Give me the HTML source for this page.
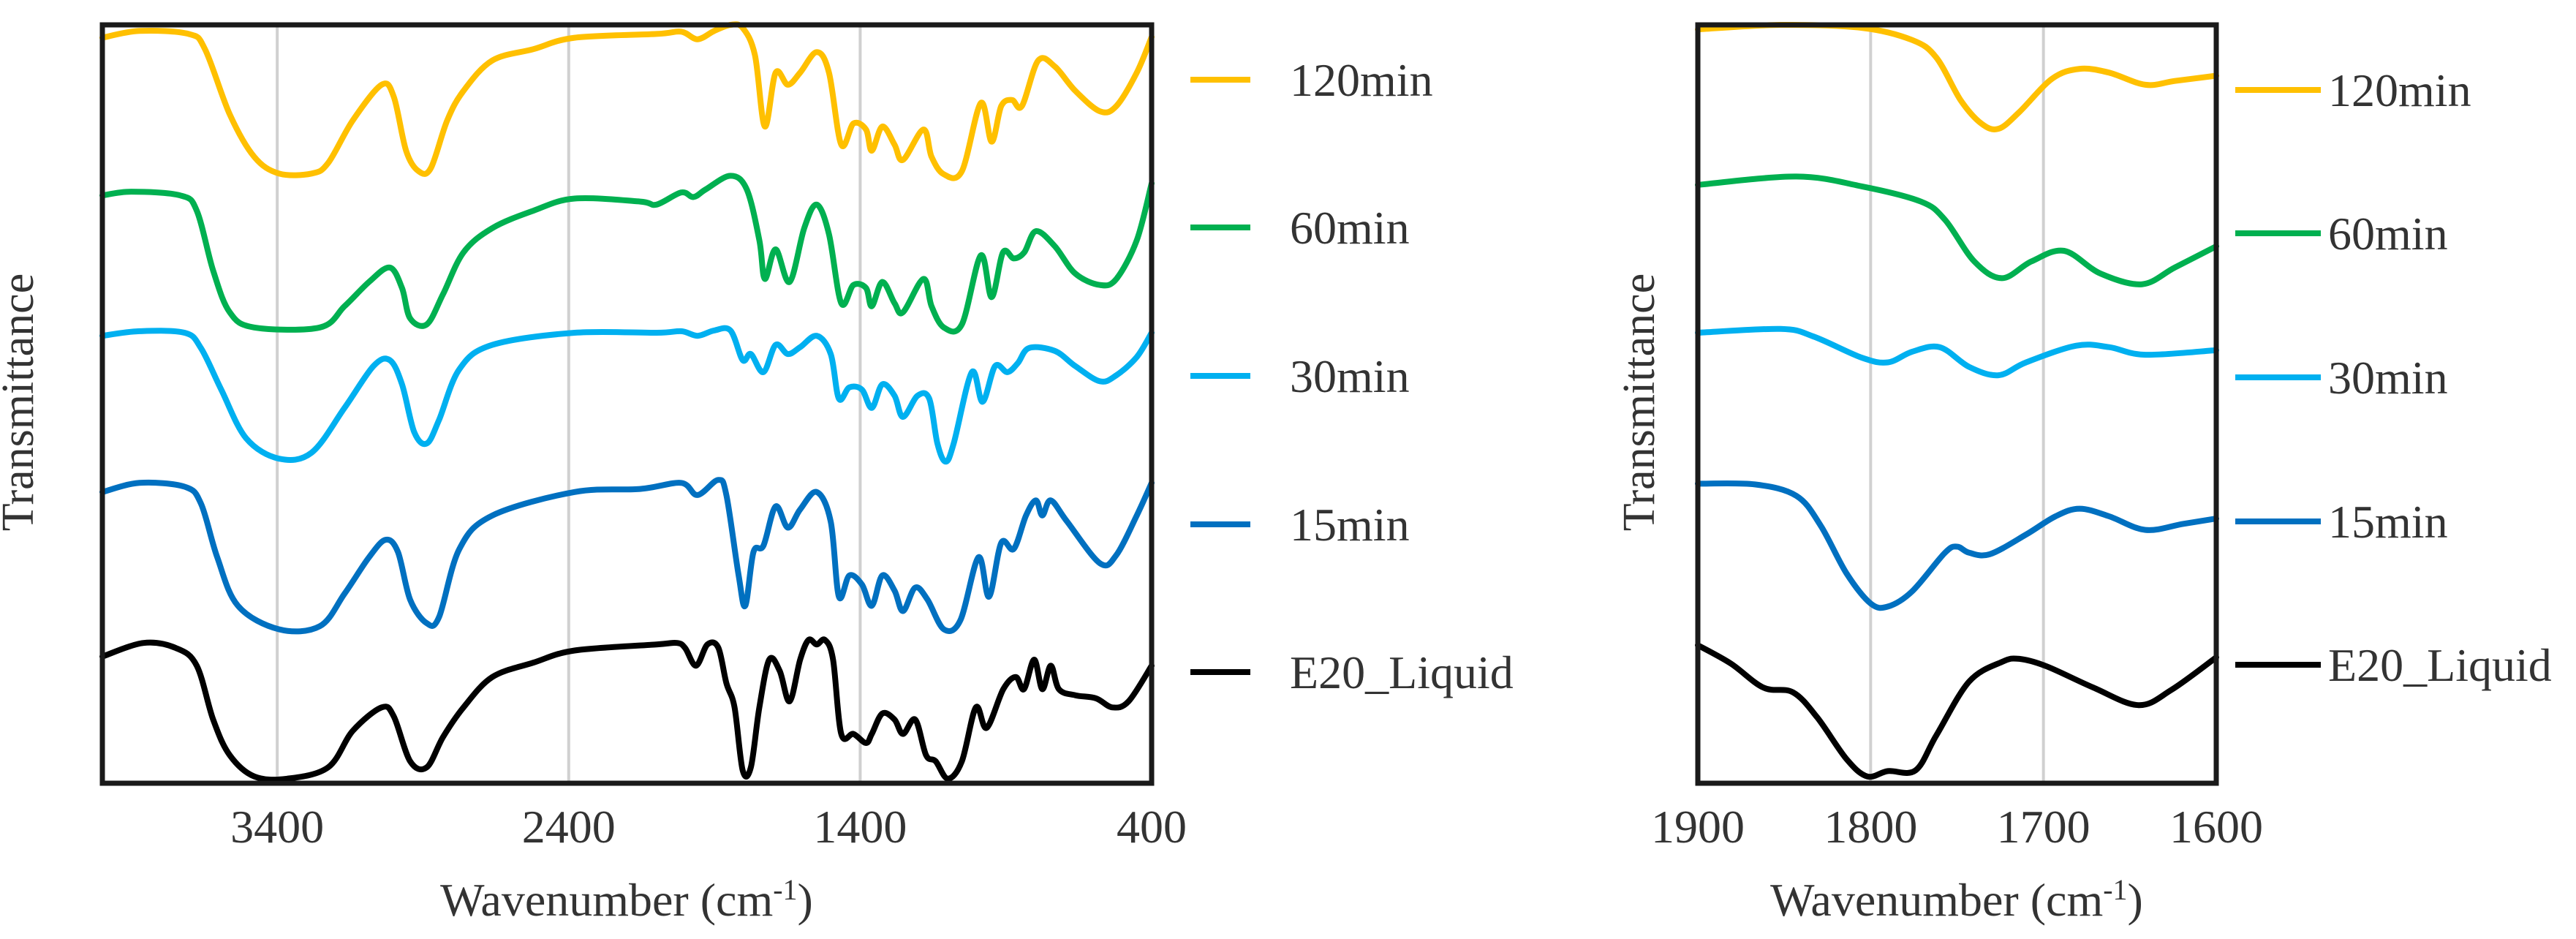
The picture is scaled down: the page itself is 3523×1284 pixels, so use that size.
<!DOCTYPE html>
<html><head><meta charset="utf-8"><style>
html,body{margin:0;padding:0;background:#fff;}
svg{display:block;}
text{font-family:"Liberation Serif","Times New Roman",serif;fill:#333333;}
</style></head>
<body>
<svg id="chart" width="3523" height="1284" viewBox="0 0 3523 1284" xmlns="http://www.w3.org/2000/svg" font-family="Liberation Serif, serif"></svg>
<script>
const seriesNames=["120min","60min","30min","15min","E20_Liquid"];
const seriesColors=["#FFC000","#00B050","#00B0F0","#0070C0","#000000"];
const leftTicks=[3400,2400,1400,400];
const rightTicks=[1900,1800,1700,1600];
const rightGrid=[1800,1700];
const L120x=[4000,3873,3704,3648,3563,3479,3394,3282,3225,3141,3042,3000,2958,2915,2873,2817,2761,2662,2521,2380,2099,2014,1958,1901,1845,1803,1761,1727,1690,1648,1606,1549,1507,1465,1423,1380,1360,1324,1282,1253,1183,1155,1113,1051,986,949,916,879,845,789,732,662,577,521,451,400];
const L120y=[98.3,99.2,98.8,96.8,88.2,82.6,80.4,80.4,81.8,87.4,92.1,90.5,83.4,80.7,81.1,87.4,91.3,95.3,96.8,98.3,98.8,99.1,98.1,99.2,100,99.6,96,86.6,93.7,92.1,93.7,96.4,93.7,84.2,87,86.2,83.4,86.6,84.2,82.2,86.2,82.6,80.3,80.7,89.7,84.6,89.3,90.1,89.3,95.3,94.5,91.3,88.6,89.3,93.7,98.4];
const L60x=[4000,3901,3732,3676,3620,3563,3479,3254,3169,3085,3014,2972,2944,2887,2831,2761,2662,2521,2380,2155,2099,2014,1972,1930,1845,1789,1746,1727,1690,1642,1592,1549,1507,1465,1423,1380,1360,1324,1282,1253,1183,1155,1113,1051,986,949,910,873,837,797,732,662,577,521,451,400];
const L60y=[77.5,78,77.5,75.5,67.6,62.1,60.1,60.1,62.9,66.1,68,65.3,61.3,60.5,64.5,70,73.2,75.5,77.1,76.7,76.3,77.9,77.3,78.3,80.1,78.3,71.6,66.5,70.4,66.1,73.2,76.3,72.4,63.3,65.7,65.3,62.9,66.1,63.3,62.1,66.5,62.9,60.1,60.5,69.6,64.1,70,69.2,70,72.8,70.8,67.2,65.7,66.5,71.6,79.1];
const L30x=[4000,3873,3718,3662,3592,3507,3394,3282,3169,3070,3014,2972,2930,2887,2845,2775,2662,2380,2099,2014,1958,1901,1845,1803,1775,1732,1690,1648,1606,1549,1501,1473,1437,1394,1360,1324,1282,1253,1203,1163,1135,1107,1079,1017,980,937,895,859,820,732,662,577,521,451,400];
const L30y=[59,59.6,59.4,57.4,51.9,45.5,42.8,43.6,49.5,55,55.8,52.6,46.3,44.8,47.9,54.6,57.8,59.4,59.4,59.6,59,59.7,59.7,55.8,56.6,54.2,57.8,56.6,57.5,59,56.6,50.7,52.2,51.9,49.5,52.6,51.1,48.3,51.1,50.7,44.8,42.4,44.8,54.2,50.3,55,54.2,55.4,57.4,57,55,53,53.8,56.2,59.4];
const L15x=[4000,3873,3718,3662,3606,3535,3394,3254,3169,3085,3028,2986,2944,2887,2845,2775,2662,2380,2155,2014,1958,1887,1859,1817,1794,1766,1732,1690,1648,1606,1549,1501,1473,1437,1394,1360,1324,1282,1253,1211,1169,1113,1056,994,958,916,873,831,797,775,746,690,577,521,451,400];
const L15y=[38.4,39.6,39.1,36.9,29.8,23.4,20.3,20.7,25,29.8,32.1,30.5,24.2,21.1,21.9,30.9,35.3,38.4,38.8,39.6,38,40,38,27.4,23.4,30.5,31.3,36.5,33.7,36.1,38.4,34.5,24.6,27.4,26.2,23.4,27.4,25.4,22.7,25.8,24.2,20.3,21.5,29.8,24.6,31.7,30.9,35.3,37.3,35.3,37.3,34.5,29,30.1,35.3,39.6];
const LEx=[4000,3859,3746,3676,3620,3563,3479,3366,3225,3141,3042,3000,2944,2887,2831,2761,2662,2521,2380,2099,2028,2000,1963,1924,1887,1859,1831,1803,1775,1746,1712,1676,1642,1606,1577,1549,1521,1493,1465,1423,1380,1360,1324,1282,1253,1211,1174,1141,1099,1051,1003,966,909,866,838,803,775,746,718,662,591,535,479,400];
const LEy=[16.7,18.5,17.8,15.5,8.4,3.7,0.9,0.6,2.1,6.9,10,8.8,2.9,2.1,6.1,10,14,15.9,17.5,18.3,18.5,17.8,15.5,18.3,17.9,13.2,10,1.7,2.1,10,16.3,14.8,10.8,16.3,18.9,18.3,18.9,16.3,6.5,6.5,5.3,6.5,9.2,8.4,6.5,8.4,3.7,2.9,0.6,2.9,10,7.3,12.4,14,12.4,16.3,12.4,15.5,12.4,11.6,11.2,10,10.8,15.5,19.1];
const R120x=[1900,1852,1805,1776,1762,1748,1736,1726,1714,1695,1679,1662,1641,1624,1600];
const R120y=[99.4,100,99.6,98,95.7,90.1,87,86.3,88.5,92.9,94.2,93.7,92.1,92.6,93.3];
const R60x=[1900,1843,1805,1771,1757,1740,1724,1707,1688,1667,1643,1624,1600];
const R60y=[78.9,80,78.7,76.7,74.3,68.8,66.6,68.8,70.2,67.2,65.8,68,70.8];
const R30x=[1900,1852,1833,1805,1790,1776,1760,1743,1726,1710,1681,1662,1641,1600];
const R30y=[59.4,59.9,58.9,56.1,55.5,56.9,57.5,54.9,53.8,55.5,57.7,57.5,56.5,57.1];
const R15x=[1900,1867,1843,1829,1814,1800,1790,1776,1757,1750,1743,1731,1710,1693,1679,1662,1641,1619,1600];
const R15y=[39.5,39.4,37.9,34,27.7,23.7,23.3,25.3,30.4,31.2,30.4,30.2,32.8,35.2,36.2,35.2,33.4,34.2,34.9];
const REx=[1900,1881,1862,1845,1831,1814,1802,1790,1774,1762,1743,1724,1714,1698,1671,1645,1626,1600];
const REy=[18.2,15.8,12.6,12,8.7,3.2,0.9,1.6,1.7,6.3,13.4,16,16.4,15.4,12.6,10.3,12.3,16.6];

const NS="http://www.w3.org/2000/svg";
const svg=document.getElementById('chart');
function mk(tag,attrs,parent){const e=document.createElementNS(NS,tag);for(const k in attrs)e.setAttribute(k,attrs[k]);(parent||svg).appendChild(e);return e;}
const PT=34,PB=1071;
function yS(v){return PB-(v/100)*(PB-PT);}
function makeX(w0,w1,x0,x1){return w=>x0+(w0-w)/(w0-w1)*(x1-x0);}
const xL=makeX(4000,400,140,1575);
const xR=makeX(1900,1600,2322,3031);
function pathFor(xs,ys,xf){
  const p=xs.map((w,i)=>[xf(w),yS(ys[i])]);
  let d='M'+p[0][0].toFixed(1)+','+p[0][1].toFixed(1);
  for(let i=0;i<p.length-1;i++){
    const p0=p[i-1]||p[i],p1=p[i],p2=p[i+1],p3=p[i+2]||p2;
    const c1=[p1[0]+(p2[0]-p0[0])/6,p1[1]+(p2[1]-p0[1])/6];
    const c2=[p2[0]-(p3[0]-p1[0])/6,p2[1]-(p3[1]-p1[1])/6];
    d+=' C'+c1[0].toFixed(1)+','+c1[1].toFixed(1)+' '+c2[0].toFixed(1)+','+c2[1].toFixed(1)+' '+p2[0].toFixed(1)+','+p2[1].toFixed(1);
  }
  return d;
}
function drawPanel(prefix,xf,x0,x1,grid,ticks,sx,sy,legX0,legX1,legTX,legYs,titleX,yTitleX){
  const g=mk('g',{});
  
  
  grid.forEach(w=>{
    const l=mk('line',{x1:xf(w),x2:xf(w),y1:PT,y2:PB,stroke:'#d0d0d0','stroke-width':4},g);
    
    
  });
  ticks.forEach(w=>{
    const t=mk('text',{x:xf(w),y:1152,'font-size':64,'text-anchor':'middle'},g);
    t.textContent=w;
    
    
  });
  sx.forEach((xs,i)=>{
    const p=mk('path',{d:pathFor(xs,sy[i],xf),fill:'none',stroke:seriesColors[i],'stroke-width':8,'stroke-linejoin':'round','stroke-linecap':'round'},g);
    
    
  });
  const fr=mk('rect',{x:x0,y:PT,width:x1-x0,height:PB-PT,fill:'none',stroke:'#1a1a1a','stroke-width':7},g);
  
  
  const xt=mk('text',{x:titleX,y:1252,'font-size':64,'text-anchor':'middle'},g);
  xt.innerHTML='Wavenumber (cm<tspan font-size="40" dy="-22">-1</tspan><tspan dy="22">)</tspan>';
  
  
  const yt=mk('text',{x:0,y:0,'font-size':62,'text-anchor':'middle',transform:'translate('+yTitleX+',550) rotate(-90)'},g);
  yt.textContent='Transmittance';
  
  
  seriesNames.forEach((n,i)=>{
    const lg=mk('g',{},g);
    
    
    mk('line',{x1:legX0,x2:legX1,y1:legYs[i],y2:legYs[i],stroke:seriesColors[i],'stroke-width':8},lg);
    const t=mk('text',{x:legTX,y:legYs[i]+22,'font-size':64},lg);
    t.textContent=n;
  });
}
drawPanel('left',xL,140,1575,[3400,2400,1400],leftTicks,[L120x,L60x,L30x,L15x,LEx],[L120y,L60y,L30y,L15y,LEy],1628,1710,1764,[109,311,514,717,919],857,45);
drawPanel('right',xR,2322,3031,rightGrid,rightTicks,[R120x,R60x,R30x,R15x,REx],[R120y,R60y,R30y,R15y,REy],3057,3174,3184,[123,319,516,713,909],2676,2262);
</script>
</body></html>
